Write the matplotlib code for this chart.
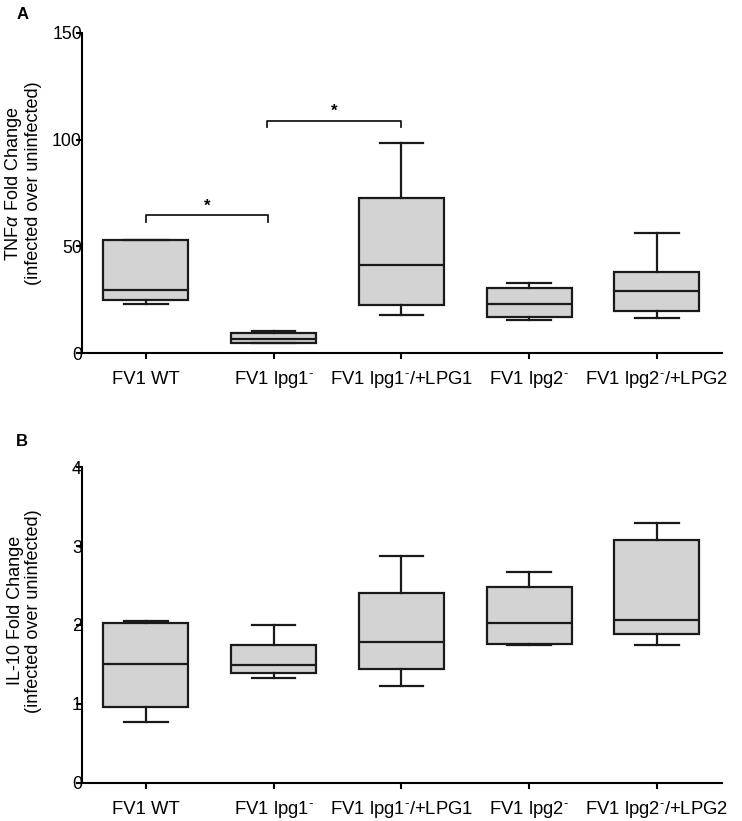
import matplotlib
matplotlib.use("Agg")
import matplotlib.pyplot as plt

plt.rcParams['font.family'] = ['Liberation Sans', 'DejaVu Sans']
plt.rcParams['mathtext.fontset'] = 'custom'
plt.rcParams['mathtext.rm'] = 'Liberation Sans'
plt.rcParams['mathtext.it'] = 'Liberation Sans:italic'
plt.rcParams['mathtext.bf'] = 'Liberation Sans:bold'

groups = ['FV1 WT', 'FV1 lpg1$^{\u2010}$', 'FV1 lpg1$^{\u2010}$/+LPG1',
          'FV1 lpg2$^{\u2010}$', 'FV1 lpg2$^{\u2010}$/+LPG2']

# TNF-alpha box stats (min, q1, median, q3, max)
tnf_lo  = [23.0, 4.5, 17.8, 15.6, 16.3]
tnf_q1  = [24.7, 4.8, 22.3, 16.9, 19.7]
tnf_med = [29.7, 6.4, 41.2, 23.1, 29.1]
tnf_q3  = [52.8, 9.5, 72.7, 30.5, 38.1]
tnf_hi  = [53.0, 10.2, 98.4, 32.8, 56.4]

# IL-10 box stats
il_lo  = [0.77, 1.325, 1.23, 1.74, 1.74]
il_q1  = [0.96, 1.39, 1.44, 1.756, 1.88]
il_med = [1.50, 1.49, 1.78, 2.02, 2.065]
il_q3  = [2.02, 1.75, 2.40, 2.48, 3.08]
il_hi  = [2.055, 2.0, 2.87, 2.67, 3.29]

# significance brackets: (x1, x2, y, drop)
sig_pairs = [(1, 1.955, 64.5, 3.2), (1.95, 3, 108.9, 3.2)]


def make_stats(lo, q1, med, q3, hi):
    return [dict(whislo=a, q1=b, med=c, q3=d, whishi=e, fliers=[])
            for a, b, c, d, e in zip(lo, q1, med, q3, hi)]


def draw_box(ax, stats, ylim, yticks):
    ax.bxp(stats, positions=range(1, 6), widths=0.665, patch_artist=True,
           showfliers=False,
           boxprops=dict(facecolor='#d3d3d3', edgecolor='#1a1a1a', linewidth=1.6),
           medianprops=dict(color='#1a1a1a', linewidth=1.6),
           whiskerprops=dict(color='#1a1a1a', linewidth=1.6),
           capprops=dict(color='#1a1a1a', linewidth=1.6),
           capwidths=0.34)
    ax.set_xlim(0.5, 5.51)
    ax.set_ylim(*ylim)
    ax.set_yticks(yticks)
    ax.set_xticks(range(1, 6))
    labels = ax.set_xticklabels(groups, fontsize=13.3)
    for lab in labels:
        lab.set_va('baseline')
    ax.spines['top'].set_visible(False)
    ax.spines['right'].set_visible(False)
    ax.spines['left'].set_linewidth(1.5)
    ax.spines['bottom'].set_linewidth(1.5)
    ax.tick_params(axis='y', length=4, width=1.5, pad=-4, labelsize=12.8)
    ax.tick_params(axis='x', length=4, width=1.5, pad=18.5)


fig = plt.figure(figsize=(7.42, 8.21), dpi=100)
axA = fig.add_axes([0.1105, 0.570, 0.8625, 0.390])
axB = fig.add_axes([0.1105, 0.0467, 0.8625, 0.3841])

draw_box(axA, make_stats(tnf_lo, tnf_q1, tnf_med, tnf_q3, tnf_hi), (0, 150), [0, 50, 100, 150])
draw_box(axB, make_stats(il_lo, il_q1, il_med, il_q3, il_hi), (0, 4), [0, 1, 2, 3, 4])

for x1, x2, y, d in sig_pairs:
    axA.plot([x1, x1, x2, x2], [y - d, y, y, y - d], color='#1a1a1a', lw=1.3)
    axA.text((x1 + x2) / 2, y + 0.8, '*', ha='center', va='bottom', fontsize=12,
             fontweight='bold')

axA.set_ylabel('TNF$\\alpha$ Fold Change\n(infected over uninfected)', fontsize=13,
               linespacing=1.05)
axA.yaxis.set_label_coords(-0.0625, 0.53)
axB.set_ylabel('IL-10 Fold Change\n(infected over uninfected)', fontsize=13,
               linespacing=1.05)
axB.yaxis.set_label_coords(-0.0625, 0.545)

fig.text(0.022, 0.991, 'A', fontsize=12, fontweight='bold', va='top', ha='left')
fig.text(0.022, 0.471, 'B', fontsize=12, fontweight='bold', va='top', ha='left')

fig.savefig('out.png', dpi=100)
